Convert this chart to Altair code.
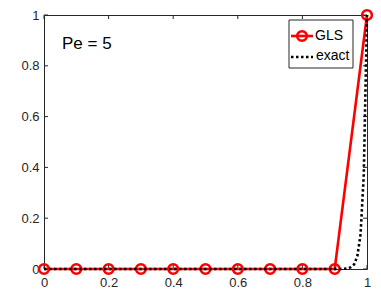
import altair as alt
import pandas as pd

# GLS solution (nodes)
gls_x = [0.0, 0.1, 0.2, 0.3, 0.4, 0.5, 0.6, 0.7, 0.8, 0.9, 1.0]
gls_y = [0, 0, 0, 0, 0, 0, 0, 0, 0, 0, 1]

# exact solution
exact_x = [0.0, 0.1, 0.2, 0.3, 0.4, 0.5, 0.6, 0.7, 0.8, 0.9, 0.92, 0.94, 0.95, 0.96, 0.97, 0.98, 0.99, 1.0]
exact_y = [0, 0, 0, 0, 0, 0, 0, 0, 0, 0.00005, 0.0003, 0.0025, 0.007, 0.018, 0.05, 0.135, 0.37, 1.0]

tick_vals = [0, 0.2, 0.4, 0.6, 0.8, 1.0]

W, H = 323, 254
FONT = "Liberation Sans"

gls = pd.DataFrame({"x": gls_x, "y": gls_y})
exact = pd.DataFrame({"x": exact_x, "y": exact_y})
ticks = pd.DataFrame({"t": tick_vals})

xs = alt.Scale(domain=[0, 1], nice=False)
ys = alt.Scale(domain=[0, 1], nice=False)

lab = "datum.value == 0 ? '0' : datum.value == 1 ? '1' : format(datum.value, '.1f')"
xaxis = alt.Axis(values=tick_vals, labelExpr=lab,
                 tickSize=0, domain=False, grid=False, labelFont=FONT, labelFontSize=13,
                 labelColor="#262626", labelPadding=7, title=None, labelFlush=False)
yaxis = alt.Axis(values=tick_vals, labelExpr=lab,
                 tickSize=0, domain=False, grid=False, labelFont=FONT, labelFontSize=13,
                 labelColor="#262626", labelPadding=5, title=None)

base_line = alt.Chart(gls).mark_line(color="#ff0000", strokeWidth=2.6, clip=False).encode(
    x=alt.X("x:Q", scale=xs, axis=xaxis),
    y=alt.Y("y:Q", scale=ys, axis=yaxis),
)
pts = alt.Chart(gls).mark_point(shape="circle", size=95, color="#ff0000", strokeWidth=2.5,
                                filled=False, opacity=1, clip=False).encode(
    x=alt.X("x:Q", scale=xs), y=alt.Y("y:Q", scale=ys))
ex = alt.Chart(exact).mark_line(color="black", strokeWidth=2.6, strokeDash=[2.5, 2.5], clip=False).encode(
    x=alt.X("x:Q", scale=xs), y=alt.Y("y:Q", scale=ys))

# inward ticks
tick_c = "#262626"
bt = alt.Chart(ticks).mark_rule(color=tick_c, strokeWidth=1).encode(
    x=alt.X("t:Q", scale=xs), y=alt.value(H), y2=alt.value(H - 4))
tt = alt.Chart(ticks).mark_rule(color=tick_c, strokeWidth=1).encode(
    x=alt.X("t:Q", scale=xs), y=alt.value(0), y2=alt.value(4))
lt = alt.Chart(ticks).mark_rule(color=tick_c, strokeWidth=1).encode(
    y=alt.Y("t:Q", scale=ys), x=alt.value(0), x2=alt.value(4))
rt = alt.Chart(ticks).mark_rule(color=tick_c, strokeWidth=1).encode(
    y=alt.Y("t:Q", scale=ys), x=alt.value(W), x2=alt.value(W - 4))

label = alt.Chart(pd.DataFrame({"t": ["Pe = 5"]})).mark_text(
    font=FONT, fontSize=17, align="left", baseline="middle", color="black").encode(
    text="t:N", x=alt.value(18), y=alt.value(29))

# legend
leg_box = alt.Chart(pd.DataFrame({"a": [0]})).mark_rect(fill="white", stroke="#262626", strokeWidth=1).encode(
    x=alt.value(245), x2=alt.value(309), y=alt.value(5), y2=alt.value(53))
leg_gls = alt.Chart(pd.DataFrame({"a": [0]})).mark_rule(color="#ff0000", strokeWidth=2.6).encode(
    x=alt.value(247), x2=alt.value(269), y=alt.value(21))
leg_pt = alt.Chart(pd.DataFrame({"a": [0]})).mark_point(shape="circle", size=95, color="#ff0000",
                                                        strokeWidth=2.5, filled=False, opacity=1).encode(
    x=alt.value(258), y=alt.value(21))
leg_ex = alt.Chart(pd.DataFrame({"a": [0]})).mark_rule(color="black", strokeWidth=2.6, strokeDash=[2.5, 2.5]).encode(
    x=alt.value(247), x2=alt.value(269), y=alt.value(42))
leg_t1 = alt.Chart(pd.DataFrame({"t": ["GLS"]})).mark_text(
    font=FONT, fontSize=14, align="left", baseline="middle", color="black").encode(
    text="t:N", x=alt.value(271), y=alt.value(21))
leg_t2 = alt.Chart(pd.DataFrame({"t": ["exact"]})).mark_text(
    font=FONT, fontSize=14, align="left", baseline="middle", color="black").encode(
    text="t:N", x=alt.value(272), y=alt.value(41))

chart = alt.layer(
    bt, tt, lt, rt, base_line, pts, ex, label, leg_box, leg_gls, leg_pt, leg_ex, leg_t1, leg_t2
).properties(
    width=W, height=H,
    padding={"left": 36, "top": 7, "right": 6, "bottom": 20},
    autosize=alt.AutoSizeParams(type="none"),
    background="white",
).configure_view(stroke="#262626", strokeWidth=1)

chart.save("out.html", embed_options={"renderer": "svg", "actions": False})
